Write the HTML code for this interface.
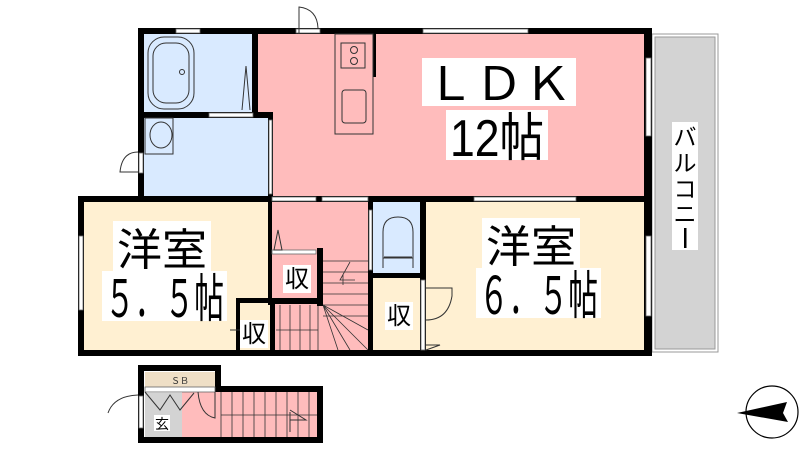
<!DOCTYPE html>
<html><head><meta charset="utf-8"><style>
html,body{margin:0;padding:0;background:#fff}
svg{display:block}
text{font-family:"Liberation Sans","Noto Sans CJK JP",sans-serif}
</style></head><body>
<svg width="800" height="450" viewBox="0 0 800 450" xmlns="http://www.w3.org/2000/svg">
<!-- fills -->
<rect x="652" y="34" width="66" height="318" fill="#fff" stroke="#999" stroke-width="1"/>
<rect x="655" y="37" width="60" height="312" fill="#d3d3d3" stroke="#999" stroke-width="1"/>
<rect x="258" y="34" width="388" height="163" fill="#ffbcbc"/>
<rect x="144" y="34" width="110" height="80" fill="#d9eaff"/>
<rect x="144" y="116" width="126" height="81" fill="#d9eaff"/>
<rect x="82" y="201" width="188" height="151" fill="#fff0d2"/>
<rect x="272" y="201" width="98" height="151" fill="#ffbcbc"/>
<rect x="372" y="201" width="50" height="74" fill="#d9eaff"/>
<rect x="372" y="276" width="50" height="76" fill="#fff0d2"/>
<rect x="424" y="201" width="222" height="151" fill="#fff0d2"/>
<rect x="236" y="302" width="34" height="50" fill="#fff0d2"/>
<rect x="145" y="372" width="70" height="15" fill="#efdfc6"/>
<rect x="145" y="393" width="37" height="44" fill="#d3d3d3"/>
<rect x="182" y="392" width="135" height="45" fill="#ffbcbc"/>
<!-- stairs lines -->
<g stroke="#333" stroke-width="0.8" fill="none">
<path d="M323 261H368M323 272H368M323 283H368M323 294H368M323 305H368M323 316H368"/>
<path d="M280 305V350M290 305V350M300 305V350M310 305V350M318 305V350M276 330H318"/>
<path d="M323 305L368 330M323 305L368 350M323 305L350 350M323 305L338 350"/>
<path d="M350 262L340 280H355M343 275V285"/>
<path d="M221 392V437M232 392V437M243 392V437M254 392V437M265 392V437M276 392V437M287 392V437M298 392V437M309 392V437M221 415H317"/>
</g>
<!-- walls -->
<g fill="#000">
<rect x="138" y="28" width="514" height="6"/>
<rect x="138" y="28" width="6" height="168"/>
<rect x="252" y="34" width="6" height="82"/>
<rect x="144" y="112" width="128" height="6"/>
<rect x="268" y="112" width="5" height="88"/>
<rect x="78" y="196" width="574" height="6"/>
<rect x="644" y="28" width="8" height="328"/>
<rect x="78" y="196" width="6" height="160"/>
<rect x="78" y="350" width="574" height="6"/>
<rect x="268" y="200" width="4" height="105"/>
<rect x="317" y="248" width="6" height="58"/>
<rect x="268" y="298" width="55" height="6"/>
<rect x="270" y="298" width="5" height="55"/>
<rect x="236" y="298" width="34" height="5"/>
<rect x="236" y="298" width="4" height="54"/>
<rect x="368" y="201" width="5" height="152"/>
<rect x="368" y="273" width="58" height="5"/>
<rect x="420" y="201" width="6" height="152"/>
<rect x="370" y="34" width="6" height="43"/>
<rect x="138" y="365" width="83" height="6"/>
<rect x="138" y="365" width="6" height="78"/>
<rect x="215" y="365" width="6" height="27"/>
<rect x="215" y="386" width="108" height="6"/>
<rect x="317" y="386" width="6" height="57"/>
<rect x="138" y="437" width="185" height="6"/>
</g>
<!-- windows / openings -->
<g fill="#fff" stroke="#666" stroke-width="0.8">
<rect x="176" y="29" width="24" height="4"/>
<rect x="296" y="29" width="24" height="4"/>
<rect x="423" y="29" width="105" height="4"/>
<rect x="646" y="58" width="5" height="78"/>
<rect x="646" y="236" width="5" height="80"/>
<rect x="474" y="197" width="102" height="4"/>
<rect x="79" y="236" width="4" height="74"/>
<rect x="209" y="113" width="44" height="4"/>
<rect x="269" y="120" width="3" height="74"/>
<rect x="272" y="197" width="44" height="4"/>
<rect x="322" y="197" width="46" height="4"/>
<rect x="272" y="250" width="44" height="4"/>
<rect x="369" y="210" width="3" height="60"/>
<rect x="421" y="280" width="4" height="70"/>
<rect x="139" y="153" width="4" height="20"/>
<rect x="139" y="396" width="4" height="32"/>
<rect x="145" y="387" width="70" height="5"/>
</g>
<!-- fixtures -->
<g fill="none" stroke="#333" stroke-width="1">
<rect x="148" y="37" width="46" height="72" rx="16"/>
<rect x="153" y="43" width="36" height="60" rx="13"/>
<circle cx="182" cy="72" r="2.5"/>
<rect x="145" y="118" width="28" height="36"/>
<ellipse cx="161" cy="135" rx="11" ry="13"/>
<rect x="335" y="34" width="38" height="100" fill="#ffbcbc"/>
<rect x="341" y="43" width="24" height="25"/>
<circle cx="354" cy="50" r="3.5"/><circle cx="354" cy="61" r="3.5"/>
<rect x="342" y="90" width="24" height="33" rx="3"/>
<path d="M383 268V232Q383 217 398 217Q413 217 413 232V268M383 258H413M384 257H412"/>
<path d="M299 34V7Q317 9 318 28"/>
<path d="M138 152Q122 152 120 172H138"/>
<path d="M138 395Q114 396 108 413"/>
<path d="M426 320Q448 320 452 296V288H426"/>
<path d="M145 392L160 410L170 395L180 410L194 393M198 392Q200 415 215 418V392"/>
<path d="M290 412V432M290 410L306 420H290"/>
<path d="M230 330H246"/>
<path d="M426 345L440 345L426 350"/>
<path d="M246 66L250 110M246 66L242 110"/>
<path d="M278 230L282 250H274Z"/>
</g>
<text x="180" y="384" font-size="9" text-anchor="middle" fill="#333">ＳＢ</text>
<rect x="154" y="415" width="16" height="16" fill="#fff"/>
<text x="162" y="429" font-size="14" text-anchor="middle">玄</text>
<!-- labels -->
<rect x="422" y="58" width="154" height="48" fill="#fff"/>
<text x="426" y="100" font-size="46" textLength="146" lengthAdjust="spacingAndGlyphs">ＬＤＫ</text>
<rect x="446" y="110" width="102" height="50" fill="#fff"/>
<text x="450" y="156" font-size="52" textLength="94" lengthAdjust="spacingAndGlyphs">12帖</text>
<rect x="482" y="218" width="98" height="50" fill="#fff"/>
<text x="486" y="262" font-size="44" textLength="90" lengthAdjust="spacingAndGlyphs">洋室</text>
<rect x="476" y="268" width="125" height="50" fill="#fff"/>
<text x="479" y="314" font-size="52" textLength="119" lengthAdjust="spacingAndGlyphs">６．５帖</text>
<rect x="113" y="221" width="98" height="50" fill="#fff"/>
<text x="117" y="265" font-size="44" textLength="90" lengthAdjust="spacingAndGlyphs">洋室</text>
<rect x="102" y="271" width="125" height="50" fill="#fff"/>
<text x="105" y="317" font-size="52" textLength="119" lengthAdjust="spacingAndGlyphs">５．５帖</text>
<rect x="283" y="265" width="28" height="28" fill="#fff"/>
<text x="297" y="287" font-size="24" text-anchor="middle">収</text>
<rect x="385" y="302" width="28" height="28" fill="#fff"/>
<text x="399" y="324" font-size="24" text-anchor="middle">収</text>
<rect x="240" y="320" width="28" height="28" fill="#fff"/>
<text x="254" y="342" font-size="24" text-anchor="middle">収</text>
<rect x="672" y="122" width="26" height="128" fill="#fff"/>
<text x="685" y="145" font-size="23" text-anchor="middle">バ</text>
<text x="685" y="171" font-size="23" text-anchor="middle">ル</text>
<text x="685" y="197" font-size="23" text-anchor="middle">コ</text>
<text x="685" y="222" font-size="23" text-anchor="middle">ニ</text>
<rect x="684" y="228" width="2.5" height="20" fill="#000"/>
<!-- compass -->
<circle cx="772" cy="412" r="26" fill="#fff" stroke="#000" stroke-width="1.2"/>
<path d="M737 413L787 402L783 413L788 422Z" fill="#000"/>
</svg>
</body></html>
